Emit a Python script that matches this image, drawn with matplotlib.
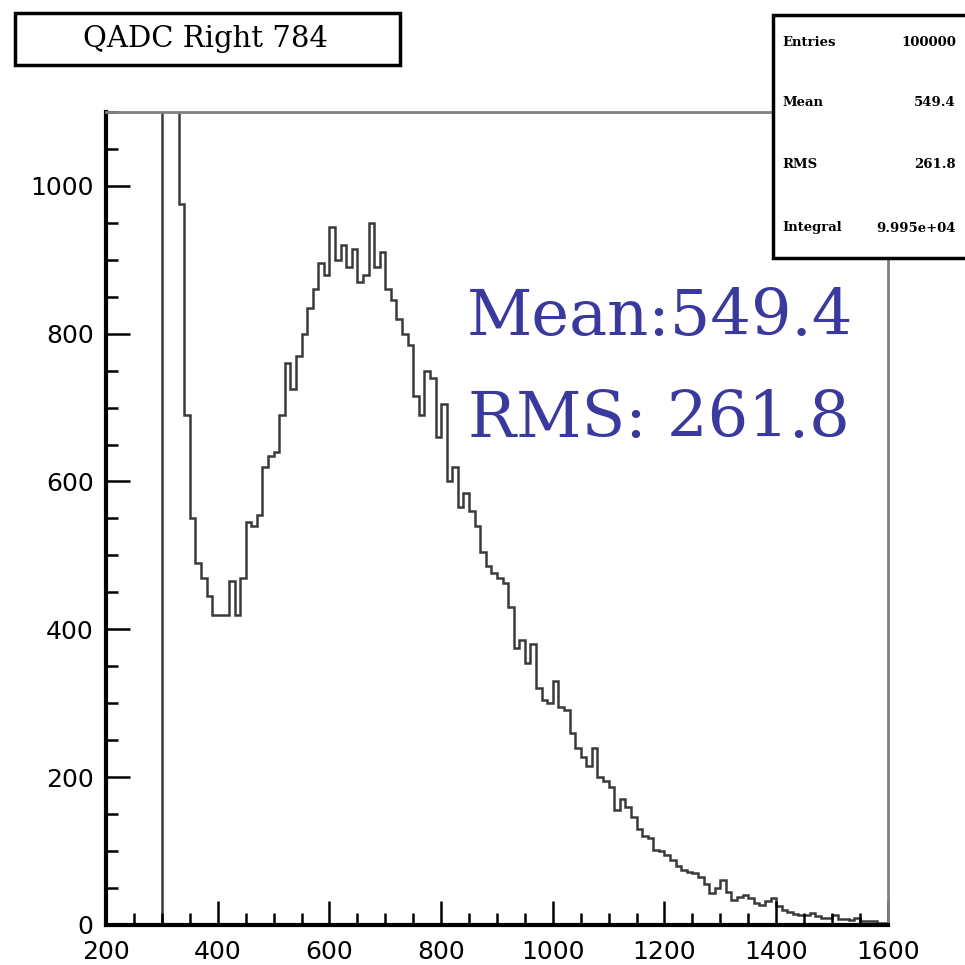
import numpy as np
import matplotlib.pyplot as plt
from matplotlib.patches import Rectangle

# QADC right channel 784, bins of 10 from 300 to 1600
bin_width = 10
first_edge = 300
counts = [30000, 20000, 5000, 975, 690, 550, 490, 470, 445, 420,
          420, 420, 465, 420, 470, 545, 540, 555, 620, 635,
          640, 690, 760, 725, 770, 800, 835, 860, 895, 880,
          945, 900, 920, 890, 915, 870, 880, 950, 890, 910,
          860, 845, 820, 800, 785, 715, 690, 750, 740, 660,
          705, 600, 620, 565, 585, 560, 540, 505, 485, 476,
          470, 462, 430, 375, 385, 355, 380, 320, 305, 300,
          330, 295, 291, 260, 240, 227, 215, 240, 200, 195,
          187, 155, 170, 160, 146, 130, 120, 118, 101, 100,
          95, 88, 80, 74, 72, 70, 65, 55, 43, 50,
          61, 45, 34, 38, 40, 36, 30, 27, 33, 36,
          25, 20, 18, 15, 13, 14, 16, 12, 10, 10,
          14, 8, 8, 7, 10, 6, 5, 5, 3, 3]
edges = first_edge + bin_width * np.arange(len(counts) + 1)

title = 'QADC Right 784'
stat_names = ['Entries', 'Mean', 'RMS', 'Integral']
stat_values = ['100000', '549.4', '261.8', '9.995e+04']
x_ticks = [200, 400, 600, 800, 1000, 1200, 1400, 1600]
y_ticks = [0, 200, 400, 600, 800, 1000]

fig = plt.figure(figsize=(9.65, 9.65), dpi=100)
ax = fig.add_axes([0.110, 0.0415, 0.810, 0.8425])

ax.stairs(counts, edges, baseline=0, color='#3a3a3a', linewidth=1.8)

ax.set_xlim(200, 1600)
ax.set_ylim(0, 1100)
ax.set_xticks(x_ticks)
ax.set_yticks(y_ticks)
ax.set_xticks(np.arange(200, 1601, 50), minor=True)
ax.set_yticks(np.arange(0, 1101, 50), minor=True)

ax.tick_params(which='both', direction='in', top=False, right=False,
               width=1.8, color='black')
ax.tick_params(which='major', length=17, labelsize=18)
ax.tick_params(axis='x', which='major', pad=11)
ax.tick_params(axis='y', which='major', pad=9)
ax.tick_params(which='minor', length=8.5)

for side in ['left', 'bottom']:
    ax.spines[side].set_linewidth(3)
    ax.spines[side].set_color('black')
for side in ['top', 'right']:
    ax.spines[side].set_linewidth(2)
    ax.spines[side].set_color('#808080')

# big stats annotation
ax.text(0.461, 0.726, 'Mean:549.4', transform=ax.transAxes, color='#3a3a9e',
        fontsize=46, family='DejaVu Serif', va='baseline')
ax.text(0.463, 0.600, 'RMS: 261.8', transform=ax.transAxes, color='#3a3a9e',
        fontsize=46, family='DejaVu Serif', va='baseline')

# title box
fig.patches.append(Rectangle((0.0155, 0.9326), 0.399, 0.0539, transform=fig.transFigure,
                             facecolor='white', edgecolor='black', linewidth=2.5))
fig.text(0.2125, 0.9596, title, ha='center', va='center', fontsize=21,
         family='DejaVu Serif')

# stats box
fig.patches.append(Rectangle((0.801, 0.7326), 0.22, 0.252, transform=fig.transFigure,
                             facecolor='white', edgecolor='black', linewidth=2.5))
rows_y = [43, 103, 165, 228]
for name, value, py in zip(stat_names, stat_values, rows_y):
    fig.text(782 / 965, 1 - py / 965, name, ha='left', va='center', fontsize=9.5,
             family='DejaVu Serif', weight='bold')
    fig.text(956 / 965, 1 - py / 965, value, ha='right', va='center', fontsize=9.5,
             family='DejaVu Serif', weight='bold')

plt.savefig('out.png', dpi=100)
